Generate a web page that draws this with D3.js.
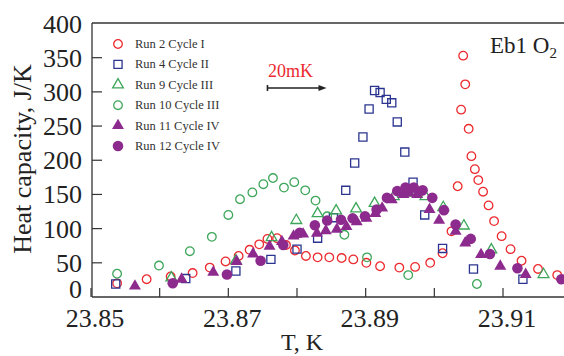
<!DOCTYPE html>
<html>
<head>
<meta charset="utf-8">
<script src="https://cdn.jsdelivr.net/npm/d3@7/dist/d3.min.js"></script>
<style>
  body { margin: 0; background: #fff; }
  svg { display: block; }
  text { font-family: "Liberation Serif", "Times New Roman", serif; }
</style>
</head>
<body>
<svg id="chart" width="564" height="356"></svg>
<script>
// ---------------- data ----------------
var xTicks = [23.85, 23.86, 23.87, 23.88, 23.89, 23.90, 23.91];
var xLabels = [23.85, 23.87, 23.89, 23.91];
var yTicks = [0, 50, 100, 150, 200, 250, 300, 350, 400];

var run2 = [[23.8538,20],[23.8581,26],[23.8616,30],[23.8648,35],[23.8673,43],[23.8696,52],[23.8715,60],
  [23.8731,69],[23.8745,77],[23.8757,85],[23.8771,86],[23.8784,76],[23.8797,68],[23.8813,60],[23.8830,58],
  [23.8847,58],[23.8865,57],[23.8882,55],[23.8901,50],[23.8921,45],[23.8949,43],[23.8972,44],[23.8994,50],
  [23.9012,64],[23.9025,96],[23.9034,162],[23.9039,274],[23.9042,353],[23.9045,311],[23.9050,246],
  [23.9054,206],[23.9059,187],[23.9064,171],[23.9071,154],[23.9079,134],[23.9087,111],[23.9098,89],
  [23.9111,70],[23.9127,53],[23.9151,41],[23.9179,32]];
var run4 = [[23.8536,19],[23.8638,27],[23.8711,38],[23.8762,55],[23.8800,70],[23.8830,86],[23.8853,116],
  [23.8871,156],[23.8884,196],[23.8896,234],[23.8905,275],[23.8913,302],[23.8921,299],[23.8930,289],
  [23.8938,284],[23.8946,256],[23.8957,212],[23.8969,168],[23.8986,120],[23.9012,71],[23.9057,41],[23.9129,26]];
var run9 = [[23.8617,28],[23.8711,53],[23.8763,87],[23.8799,112],[23.8830,122],[23.8857,126],[23.8886,129],
  [23.8913,137],[23.8941,147],[23.8963,152],[23.8987,147],[23.9013,131],[23.9043,104],[23.9083,69],[23.9159,33]];
var run10 = [[23.8538,34],[23.8599,46],[23.8644,67],[23.8676,88],[23.8700,120],[23.8717,143],[23.8735,153],
  [23.8751,165],[23.8765,174],[23.8781,160],[23.8796,168],[23.8812,156],[23.8827,141],[23.8844,118],
  [23.8869,91],[23.8902,58],[23.8962,32],[23.9062,19]];
var run11 = [[23.8564,16],[23.8632,26],[23.8678,36],[23.8712,52],[23.8736,63],[23.8760,74],[23.8778,81],
  [23.8795,89],[23.8809,92],[23.8829,93],[23.8842,97],[23.8858,99],[23.8872,103],[23.8887,110],[23.8901,115],
  [23.8914,122],[23.8924,130],[23.8938,142],[23.8955,150],[23.8963,152],[23.8975,150],[23.8993,128],
  [23.9007,112],[23.9031,96],[23.9045,79],[23.9068,62],[23.9096,45],[23.9133,33]];
var run12 = [[23.8619,20],[23.8698,33],[23.8747,53],[23.8780,76],[23.8804,94],[23.8826,105],[23.8844,112],
  [23.8864,113],[23.8881,115],[23.8899,118],[23.8916,128],[23.8931,145],[23.8946,155],[23.8958,160],
  [23.8970,160],[23.8983,156],[23.8997,145],[23.9014,127],[23.9031,106],[23.9053,85],[23.9081,63],
  [23.9121,42],[23.9185,26]];

var seriesNames = ["Run 2 Cycle I", "Run 4 Cycle II", "Run 9 Cycle III", "Run 10 Cycle III", "Run 11 Cycle IV", "Run 12 Cycle IV"];
var seriesData = [run2, run4, run9, run10, run11, run12];

// ---------------- look ----------------
var red = "#ec2a2f", blue = "#2b3590", green = "#3da65a", purple = "#8d2a8e";
var styles = [
  {shape: "circle", color: red, fill: false},
  {shape: "square", color: blue, fill: false},
  {shape: "triangle", color: green, fill: false},
  {shape: "circle", color: green, fill: false},
  {shape: "triangle", color: purple, fill: true},
  {shape: "circle", color: purple, fill: true}
];

var svg = d3.select("#chart");
// note: "top" is taken by window.top, so plot edges get their own names
var plotL = 92, plotT = 23, plotB = 297, plotR = 564;

var x = d3.scaleLinear().domain([23.85, 23.91]).range([91, 503]);
var y = d3.scaleLinear().domain([0, 400]).range([plotB, plotT + 0.5]);

function symbolPath(st) {
  if (st.shape == "circle") return d3.symbol().type(d3.symbolCircle).size(st.fill ? 88 : 58)();
  if (st.shape == "square") return d3.symbol().type(d3.symbolSquare).size(66)();
  return d3.symbol().type(d3.symbolTriangle).size(st.fill ? 62 : 50)();
}

// ---------------- frame ----------------
var axisColor = "#333";
svg.append("line").attr("x1", plotL).attr("x2", plotR).attr("y1", plotT).attr("y2", plotT)
  .attr("stroke", axisColor).attr("stroke-width", 1.3);
svg.append("line").attr("x1", plotL).attr("x2", plotL).attr("y1", plotT).attr("y2", plotB)
  .attr("stroke", axisColor).attr("stroke-width", 1.3);
svg.append("line").attr("x1", plotL).attr("x2", plotR).attr("y1", plotB).attr("y2", plotB)
  .attr("stroke", axisColor).attr("stroke-width", 1.3);

// x ticks (inward)
svg.selectAll(".xt").data(xTicks).enter().append("line")
  .attr("x1", function(d) { return x(d); }).attr("x2", function(d) { return x(d); })
  .attr("y1", plotB).attr("y2", plotB - 9)
  .attr("stroke", axisColor).attr("stroke-width", 1.2);
svg.selectAll(".xl").data(xLabels).enter().append("text")
  .attr("x", function(d) { return x(d) + 4; }).attr("y", 327)
  .attr("text-anchor", "middle").attr("font-size", 26).attr("fill", "#222")
  .text(function(d) { return d3.format(".2f")(d); });

// y ticks (inward)
svg.selectAll(".yt").data(yTicks.filter(function(d) { return d > 0 && d < 400; })).enter().append("line")
  .attr("x1", plotL).attr("x2", plotL + 10)
  .attr("y1", function(d) { return y(d); }).attr("y2", function(d) { return y(d); })
  .attr("stroke", axisColor).attr("stroke-width", 1.2);
svg.selectAll(".yl").data(yTicks).enter().append("text")
  .attr("x", 82).attr("y", function(d) { return d == 0 ? y(d) + 1 : y(d) + 9; })
  .attr("text-anchor", "end").attr("font-size", 26).attr("fill", "#222")
  .text(function(d) { return d; });

// axis titles
svg.append("text").attr("transform", "translate(31,159) rotate(-90)")
  .attr("text-anchor", "middle").attr("font-size", 26).attr("fill", "#222")
  .text("Heat capacity, J/K");
svg.append("text").attr("x", 302).attr("y", 350)
  .attr("text-anchor", "middle").attr("font-size", 24).attr("fill", "#222")
  .text("T, K");

// ---------------- points ----------------
seriesData.forEach(function(data, i) {
  var st = styles[i];
  svg.append("g").selectAll("path").data(data).enter().append("path")
    .attr("d", symbolPath(st))
    .attr("transform", function(d) { return "translate(" + x(d[0]) + "," + y(d[1]) + ")"; })
    .attr("fill", st.fill ? st.color : "none")
    .attr("stroke", st.fill ? "none" : st.color)
    .attr("stroke-width", 1.3);
});

// ---------------- legend ----------------
var legend = svg.append("g");
seriesNames.forEach(function(name, i) {
  var st = styles[i], ly = 44 + i * 20.4;
  legend.append("path").attr("d", symbolPath(st))
    .attr("transform", "translate(118," + ly + ")")
    .attr("fill", st.fill ? st.color : "none")
    .attr("stroke", st.fill ? "none" : st.color)
    .attr("stroke-width", 1.3);
  legend.append("text").attr("x", 135).attr("y", ly + 4)
    .attr("font-size", 12.5).attr("fill", "#333").text(name);
});

// ---------------- annotations ----------------
var t = svg.append("text").attr("x", 490).attr("y", 53).attr("font-size", 23).attr("fill", "#222");
t.append("tspan").text("Eb1 O");
t.append("tspan").attr("font-size", 15).attr("dy", 5).text("2");

svg.append("text").attr("x", 268).attr("y", 77).attr("font-size", 18).attr("fill", red).text("20mK");
var ax0 = x(23.8757), ax1 = x(23.8843);
svg.append("line").attr("x1", ax0).attr("x2", ax1 - 6).attr("y1", 88).attr("y2", 88)
  .attr("stroke", "#222").attr("stroke-width", 1.6);
svg.append("line").attr("x1", ax0).attr("x2", ax0).attr("y1", 85).attr("y2", 91)
  .attr("stroke", "#222").attr("stroke-width", 1.6);
svg.append("path").attr("d", "M" + ax1 + ",88 L" + (ax1 - 8) + ",85 L" + (ax1 - 8) + ",91 Z").attr("fill", "#222");
</script>
</body>
</html>
